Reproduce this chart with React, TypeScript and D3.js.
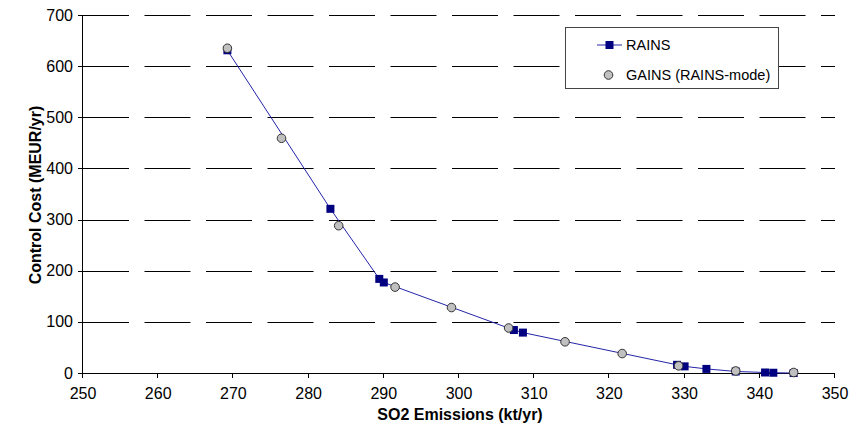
import React from "react";
import * as d3 from "d3";

const rainsX = [269.2, 282.9, 289.4, 290.0, 307.3, 308.5, 329.0, 330.0, 332.9, 336.8, 340.7, 341.8, 344.5];
const rainsY = [631, 321, 184, 177, 84, 79, 16, 13, 8, 3, 1, 0.5, 0];
const gainsX = [269.2, 276.4, 284.0, 291.5, 299.0, 306.6, 314.1, 321.7, 329.2, 336.8, 344.5];
const gainsY = [635, 459, 288, 168, 128, 88, 61, 38, 14, 4, 1];
const xTicks = [250, 260, 270, 280, 290, 300, 310, 320, 330, 340, 350];
const yTicks = [0, 100, 200, 300, 400, 500, 600, 700];

const FONT = "'Liberation Sans', Arial, sans-serif";

export default function App() {
  const x = d3.scaleLinear().domain([250, 350]).range([83, 835]);
  const y = d3.scaleLinear().domain([0, 700]).range([373, 15]);
  const rains = rainsX.map((v, i) => [v, rainsY[i]] as [number, number]);
  const gains = gainsX.map((v, i) => [v, gainsY[i]] as [number, number]);
  const line = d3
    .line<[number, number]>()
    .x((d) => x(d[0]))
    .y((d) => y(d[1]));
  const sq = 8;
  return (
    <svg
      width={859}
      height={435}
      style={{ position: "absolute", left: 0, top: 0, background: "#fff" }}
      fontFamily={FONT}
    >
      <rect x={0} y={0} width={859} height={435} fill="#fff" />
      {yTicks
        .filter((t) => t > 0)
        .map((t) => (
          <line
            key={"g" + t}
            x1={x(250)}
            x2={x(350)}
            y1={Math.round(y(t)) + 0.5}
            y2={Math.round(y(t)) + 0.5}
            stroke="#000"
            strokeWidth={1}
            strokeDasharray="46,15.5"
          />
        ))}
      {/* axes */}
      <line x1={x(250)} x2={x(350)} y1={Math.round(y(0)) + 0.5} y2={Math.round(y(0)) + 0.5} stroke="#000" />
      <line x1={Math.round(x(250)) - 0.5} x2={Math.round(x(250)) - 0.5} y1={y(700)} y2={y(0)} stroke="#000" />
      {yTicks.map((t) => (
        <g key={"yt" + t}>
          <line
            x1={x(250) - 5}
            x2={x(250)}
            y1={Math.round(y(t)) + 0.5}
            y2={Math.round(y(t)) + 0.5}
            stroke="#000"
          />
          <text x={x(250) - 10} y={y(t)} dy="0.35em" textAnchor="end" fontSize={16} fill="#000">
            {t}
          </text>
        </g>
      ))}
      {xTicks.map((t) => (
        <g key={"xt" + t}>
          <line
            x1={Math.round(x(t)) - 0.5}
            x2={Math.round(x(t)) - 0.5}
            y1={y(0)}
            y2={y(0) + 5}
            stroke="#000"
          />
          <text x={x(t)} y={399} textAnchor="middle" fontSize={16} fill="#000">
            {t}
          </text>
        </g>
      ))}
      <text x={460} y={420} textAnchor="middle" fontSize={16} fontWeight="bold" fill="#000">
        SO2 Emissions (kt/yr)
      </text>
      <text
        transform={`translate(41,195) rotate(-90)`}
        textAnchor="middle"
        fontSize={16}
        fontWeight="bold"
        fill="#000"
      >
        Control Cost (MEUR/yr)
      </text>
      {/* series */}
      <path d={line(rains) || ""} fill="none" stroke="#2424a8" strokeWidth={1} />
      {rains.map((d, i) => (
        <rect key={"r" + i} x={x(d[0]) - sq / 2} y={y(d[1]) - sq / 2} width={sq} height={sq} fill="#000080" />
      ))}
      {gains.map((d, i) => (
        <circle key={"c" + i} cx={x(d[0])} cy={y(d[1])} r={4.3} fill="#c0c0c0" stroke="#333" strokeWidth={1} />
      ))}
      {/* legend */}
      <rect x={565.5} y={27.5} width={213} height={61} fill="#fff" stroke="#444" strokeWidth={1} />
      <line x1={597} x2={622} y1={45} y2={45} stroke="#2424a8" />
      <rect x={609.5 - 4} y={41} width={8} height={8} fill="#000080" />
      <text x={626} y={45} dy="0.35em" fontSize={14.5} fill="#000">
        RAINS
      </text>
      <circle cx={608.5} cy={75} r={4.3} fill="#c0c0c0" stroke="#333" />
      <text x={626} y={75} dy="0.35em" fontSize={14.5} fill="#000">
        GAINS (RAINS-mode)
      </text>
    </svg>
  );
}
